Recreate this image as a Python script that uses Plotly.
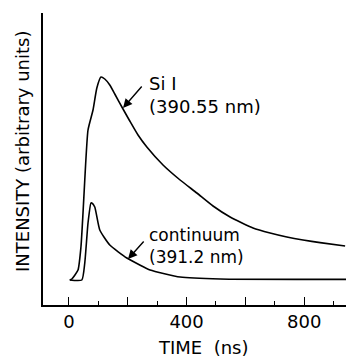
import plotly.graph_objects as go

# Si I (390.55 nm) intensity vs time
si_t = [3, 10, 31, 41, 48, 54, 65, 82, 95, 109, 122, 139, 156, 184, 207, 235, 265, 320, 378, 435, 490, 548, 626, 684, 741, 796, 854, 939]
si_i = [0, 0.5, 5, 16.5, 33.5, 50, 75, 85, 96, 101.5, 100.5, 97.5, 93, 85.5, 79.5, 72.5, 66.5, 57.5, 50, 43.5, 37, 31.5, 26, 23.5, 21.5, 20, 18.7, 17]

# continuum (391.2 nm)
co_t = [3, 44, 54, 65, 75, 78, 88, 105, 139, 197, 241, 276, 378, 514, 946]
co_i = [0, 0, 8.5, 28.5, 38.5, 38.5, 36.5, 25, 17.5, 11, 7.5, 5, 1.5, 0.5, 0.3]

tick_vals = [0, 200, 400, 600, 800]
tick_text = ["0", "", "400", "", "800"]

FONT = "DejaVu Sans"
fig = go.Figure()
fig.add_trace(go.Scatter(x=si_t, y=si_i, mode="lines", line=dict(color="black", width=1.6, shape="spline", smoothing=0.5)))
fig.add_trace(go.Scatter(x=co_t, y=co_i, mode="lines", line=dict(color="black", width=1.6, shape="spline", smoothing=0.5)))

ann = []
ann.append(dict(x=265, y=92.5, xref="x", yref="y", text="Si I<br>(390.55 nm)", showarrow=False, xanchor="left", yanchor="middle",
                align="left", font=dict(family=FONT, size=18, color="black")))
ann.append(dict(x=265, y=17, xref="x", yref="y", text="continuum<br>(391.2 nm)", showarrow=False, xanchor="left", yanchor="middle",
                align="left", font=dict(family=FONT, size=17, color="black")))
ann.append(dict(x=184, y=86, xref="x", yref="y", ax=20, ay=-23, text="", showarrow=True, arrowhead=2, arrowsize=1.3, arrowwidth=1.4, arrowcolor="black"))
ann.append(dict(x=201, y=10.5, xref="x", yref="y", ax=17, ay=-19, text="", showarrow=True, arrowhead=2, arrowsize=1.3, arrowwidth=1.4, arrowcolor="black"))
ann.append(dict(x=0.528, y=-0.147, xref="paper", yref="paper", text="TIME  (ns)", showarrow=False, xanchor="center", yanchor="middle",
                font=dict(family=FONT, size=18, color="black")))
ann.append(dict(x=-0.066, y=0.524, xref="paper", yref="paper", text="INTENSITY (arbitrary units)", textangle=-90, showarrow=False,
                xanchor="center", yanchor="middle", font=dict(family=FONT, size=18, color="black")))

fig.update_layout(
    width=353, height=358,
    margin=dict(l=43, r=7, t=13, b=53),
    paper_bgcolor="white", plot_bgcolor="white",
    showlegend=False,
    annotations=ann,
    font=dict(family=FONT, size=18, color="black"),
    xaxis=dict(range=[-88, 942], showgrid=False, zeroline=False, showline=True, linecolor="black", linewidth=1.5,
               tickmode="array", tickvals=tick_vals, ticktext=tick_text, ticks="inside", ticklen=8, tickwidth=1.3, tickcolor="black",
               tickfont=dict(family=FONT, size=18, color="black"),
               minor=dict(tickmode="linear", tick0=0, dtick=100, ticks="inside", ticklen=4, tickwidth=1.3, tickcolor="black", showgrid=False)),
    yaxis=dict(range=[-12.5, 133.5], showgrid=False, zeroline=False, showline=True, linecolor="black", linewidth=1.5,
               showticklabels=False, ticks=""),
)
fig.write_html("out.html")
